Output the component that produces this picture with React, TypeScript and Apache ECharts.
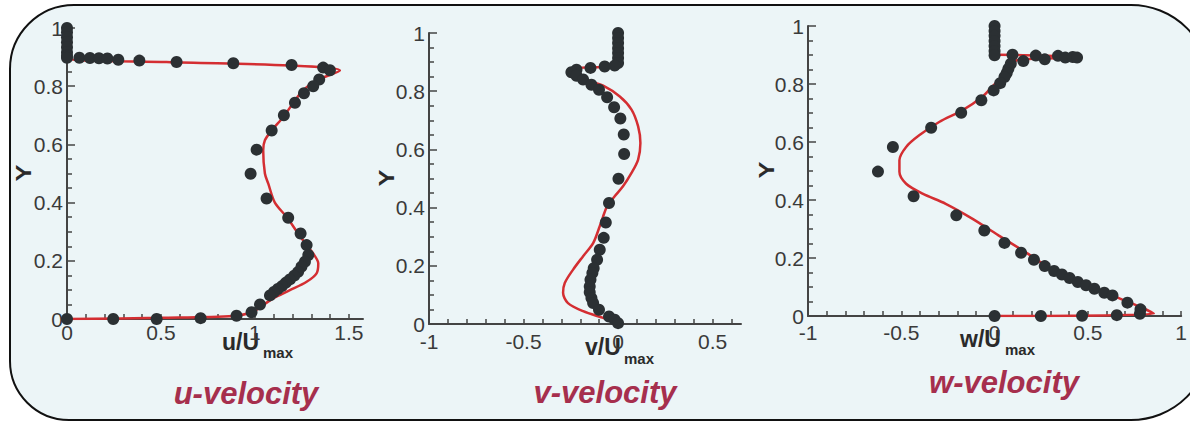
import React, { useEffect, useRef } from 'react';
import * as echarts from 'echarts';

// ---------- data (x, Y) ----------
const uExp: number[][] = [
  [0, 1.0], [0, 0.985], [0, 0.968], [0, 0.951], [0, 0.934], [0, 0.917], [0, 0.905], [0, 0.898],
  [0.066, 0.898], [0.122, 0.897], [0.17, 0.896], [0.215, 0.895], [0.273, 0.891], [0.385, 0.888],
  [0.583, 0.883], [0.885, 0.879], [1.195, 0.873], [1.363, 0.864], [1.399, 0.855],
  [1.342, 0.823], [1.31, 0.8], [1.261, 0.776], [1.213, 0.743], [1.154, 0.7], [1.089, 0.648],
  [1.009, 0.582], [0.977, 0.499], [1.062, 0.414], [1.177, 0.348], [1.243, 0.294], [1.275, 0.254],
  [1.284, 0.22], [1.266, 0.197], [1.248, 0.18], [1.23, 0.162], [1.209, 0.149], [1.186, 0.136],
  [1.165, 0.125], [1.144, 0.113], [1.122, 0.103], [1.101, 0.093], [1.08, 0.081],
  [1.027, 0.05], [0.982, 0.023], [0.902, 0.011], [0.711, 0.003], [0.477, 0], [0.246, 0], [0, 0],
];
const uCfd: number[][] = [
  [0, 0], [0.5, 0.004], [0.885, 0.01], [0.991, 0.025], [1.044, 0.048], [1.097, 0.071], [1.186, 0.099],
  [1.275, 0.128], [1.328, 0.157], [1.337, 0.191], [1.31, 0.225], [1.275, 0.254], [1.23, 0.294],
  [1.168, 0.351], [1.106, 0.4], [1.071, 0.465], [1.053, 0.5], [1.044, 0.58], [1.053, 0.614],
  [1.089, 0.648], [1.151, 0.694], [1.213, 0.751], [1.257, 0.786], [1.328, 0.82], [1.452, 0.854],
  [1.186, 0.871], [0.53, 0.883], [0, 0.898], [0, 1.0],
];
const vExp: number[][] = [
  [0, 1.0], [0, 0.983], [0, 0.966], [0, 0.948], [0, 0.931], [0, 0.914], [0, 0.897],
  [-0.018, 0.888], [-0.071, 0.885], [-0.146, 0.88], [-0.22, 0.874], [-0.247, 0.865], [-0.22, 0.853],
  [-0.185, 0.84], [-0.141, 0.822], [-0.101, 0.805], [-0.058, 0.779], [-0.021, 0.745], [0.012, 0.706],
  [0.03, 0.651], [0.032, 0.584], [0.002, 0.499], [-0.048, 0.416], [-0.065, 0.349], [-0.076, 0.296],
  [-0.097, 0.255], [-0.111, 0.221], [-0.129, 0.192], [-0.136, 0.175], [-0.146, 0.152], [-0.15, 0.129],
  [-0.15, 0.109], [-0.141, 0.089], [-0.132, 0.072], [-0.101, 0.049], [-0.048, 0.026], [-0.018, 0.015],
  [0, 0.003],
];
const vCfd: number[][] = [
  [0, 1.0], [0, 0.891], [-0.22, 0.876], [-0.168, 0.84], [-0.079, 0.819], [0.009, 0.782], [0.071, 0.737],
  [0.106, 0.679], [0.118, 0.622], [0.106, 0.565], [0.071, 0.519], [0.026, 0.473], [-0.018, 0.439],
  [-0.058, 0.404], [-0.079, 0.37], [-0.097, 0.336], [-0.132, 0.278], [-0.185, 0.233], [-0.238, 0.187],
  [-0.282, 0.141], [-0.291, 0.107], [-0.265, 0.072], [-0.185, 0.044], [-0.079, 0.021], [0, 0.003],
];
const wExp: number[][] = [
  [0, 1.0], [0, 0.983], [0, 0.966], [0, 0.948], [0, 0.931], [0, 0.914], [0, 0.899],
  [0.096, 0.901], [0.221, 0.898], [0.34, 0.897], [0.379, 0.891], [0.419, 0.893], [0.442, 0.891],
  [0.269, 0.885], [0.154, 0.879], [0.087, 0.87], [0.074, 0.853], [0.065, 0.838], [0.053, 0.824],
  [0.03, 0.803], [-0.005, 0.778], [-0.071, 0.744], [-0.179, 0.701], [-0.34, 0.649], [-0.545, 0.583],
  [-0.625, 0.498], [-0.434, 0.413], [-0.205, 0.347], [-0.055, 0.295], [0.053, 0.252], [0.142, 0.218],
  [0.211, 0.194], [0.269, 0.172], [0.319, 0.155], [0.361, 0.143], [0.402, 0.131], [0.446, 0.117],
  [0.49, 0.106], [0.535, 0.094], [0.588, 0.08], [0.632, 0.071], [0.712, 0.046], [0.782, 0.023],
  [0.779, 0.008], [0.655, 0.003], [0.469, 0.001], [0.248, 0], [0, 0],
];
const wCfd: number[][] = [
  [0, 0], [0.853, 0.008], [0.782, 0.031], [0.694, 0.054], [0.588, 0.083], [0.446, 0.123], [0.304, 0.163],
  [0.163, 0.221], [0.021, 0.278], [-0.12, 0.336], [-0.262, 0.387], [-0.386, 0.422], [-0.474, 0.456],
  [-0.51, 0.497], [-0.51, 0.537], [-0.474, 0.583], [-0.404, 0.623], [-0.297, 0.669], [-0.173, 0.709],
  [-0.067, 0.755], [-0.014, 0.79], [0.039, 0.824], [0.092, 0.859], [0.119, 0.882], [0.446, 0.891],
  [0.021, 0.901], [0, 0.901], [0, 1.0],
];

// ---------- ticks ----------
const uTicks = [0, 0.1, 0.2, 0.3, 0.4, 0.5, 0.6, 0.7, 0.8, 0.9, 1, 1.1, 1.2, 1.3, 1.4, 1.5];
const uLabels = [0, 0.5, 1, 1.5];
const vTicks = [-1, -0.9, -0.8, -0.7, -0.6, -0.5, -0.4, -0.3, -0.2, -0.1, 0, 0.1, 0.2, 0.3, 0.4, 0.5, 0.6];
const vLabels = [-1, -0.5, 0, 0.5];
const wTicks = [-1, -0.9, -0.8, -0.7, -0.6, -0.5, -0.4, -0.3, -0.2, -0.1, 0, 0.1, 0.2, 0.3, 0.4, 0.5, 0.6, 0.7, 0.8, 0.9, 1];
const wLabels = [-1, -0.5, 0, 0.5, 1];
const titles = ['u-velocity', 'v-velocity', 'w-velocity'];
const xNames = ['u/U', 'v/U', 'w/U'];

const FONT = 'Liberation Sans, Arial, sans-serif';
const AXIS = '#444444';
const LABEL = '#3a3a3a';
const RED = '#d42e32';
const DOT = '#2b3033';
const TITLE = '#a62f4d';

export default function App() {
  const ref = useRef<HTMLDivElement>(null);
  useEffect(() => {
    if (!ref.current) return;
    const chart = echarts.init(ref.current, null, { renderer: 'svg' });

    const xAxisCfg = (gi: number, min: number, max: number, ticks: number[], labels: number[], margin: number) => ({
      type: 'value', gridIndex: gi, min, max,
      axisLine: { show: true, onZero: false, lineStyle: { color: AXIS, width: 2 } },
      axisTick: { show: true, inside: true, length: 5, customValues: ticks, lineStyle: { color: AXIS, width: 1.5 } },
      axisLabel: { show: true, customValues: labels, margin, color: LABEL, fontSize: 21, fontFamily: FONT },
      splitLine: { show: false },
    });
    const yAxisCfg = (gi: number) => ({
      type: 'value', gridIndex: gi, min: 0, max: 1, interval: 0.2,
      axisLine: { show: true, onZero: false, lineStyle: { color: AXIS, width: 2 } },
      axisTick: { show: true, inside: true, length: 8, lineStyle: { color: AXIS, width: 1.5 } },
      minorTick: { show: true, splitNumber: 4, length: 5, lineStyle: { color: AXIS, width: 1.5 } },
      axisLabel: { show: true, margin: 4, color: LABEL, fontSize: 21, fontFamily: FONT },
      splitLine: { show: false },
      minorSplitLine: { show: false },
    });

    const lineS = (i: number, d: number[][]) => ({
      type: 'line', xAxisIndex: i, yAxisIndex: i, data: d, smooth: 0.3, showSymbol: false,
      lineStyle: { color: RED, width: 2.5 }, z: 2,
    });
    const dotS = (i: number, d: number[][]) => ({
      type: 'scatter', xAxisIndex: i, yAxisIndex: i, data: d, symbolSize: 12,
      itemStyle: { color: DOT, opacity: 1 }, z: 3,
    });

    const nameText = (x: number, y: number, sx: number, sy: number, t: string) => [
      { type: 'text', x, y, style: { text: t, font: `bold 23px ${FONT}`, fill: '#2a2a2a', textAlign: 'left', textVerticalAlign: 'middle' } },
      { type: 'text', x: sx, y: sy, style: { text: 'max', font: `bold 15px ${FONT}`, fill: '#2a2a2a', textAlign: 'left', textVerticalAlign: 'middle' } },
    ];
    const yText = (x: number, y: number) => ({
      type: 'text', x, y, rotation: Math.PI / 2, scaleX: 1.15,
      style: { text: 'Y', font: `bold 22px ${FONT}`, fill: '#2a2a2a', textAlign: 'center', textVerticalAlign: 'middle' },
    });
    const titleText = (x: number, y: number, t: string) => ({
      type: 'text', x, y,
      style: { text: t, font: `italic bold 31px ${FONT}`, fill: TITLE, textAlign: 'center', textVerticalAlign: 'middle' },
    });

    chart.setOption({
      animation: false,
      backgroundColor: 'transparent',
      grid: [
        { left: 67, top: 28, width: 296, height: 291 },
        { left: 429, top: 33, width: 312, height: 291 },
        { left: 808, top: 26, width: 378, height: 290 },
      ],
      xAxis: [
        xAxisCfg(0, 0, 1.575, uTicks, uLabels, 3),
        xAxisCfg(1, -1, 0.65, vTicks, vLabels, 7),
        xAxisCfg(2, -1, 1, wTicks, wLabels, 6),
      ],
      yAxis: [yAxisCfg(0), yAxisCfg(1), yAxisCfg(2)],
      series: [
        lineS(0, uCfd), dotS(0, uExp),
        lineS(1, vCfd), dotS(1, vExp),
        lineS(2, wCfd), dotS(2, wExp),
      ],
      graphic: [
        ...nameText(222, 342, 263, 352, xNames[0]),
        ...nameText(585, 347, 624, 358, xNames[1]),
        ...nameText(960, 339, 1005, 349, xNames[2]),
        yText(24, 173), yText(387, 178), yText(767, 170),
        titleText(246, 393, titles[0]),
        titleText(605, 392, titles[1]),
        titleText(1004, 382, titles[2]),
      ],
    });
    return () => chart.dispose();
  }, []);

  return (
    <div style={{ position: 'fixed', left: 0, top: 0, width: 1190, height: 424, overflow: 'hidden', background: '#ffffff' }}>
      <div style={{
        position: 'absolute', left: 9, top: 4, width: 1202, height: 417, boxSizing: 'border-box',
        border: '2px solid #111111', borderRadius: '65px 80px 80px 60px', background: '#ecf5f7',
      }} />
      <div ref={ref} style={{ position: 'absolute', left: 0, top: 0, width: 1190, height: 424 }} />
    </div>
  );
}
